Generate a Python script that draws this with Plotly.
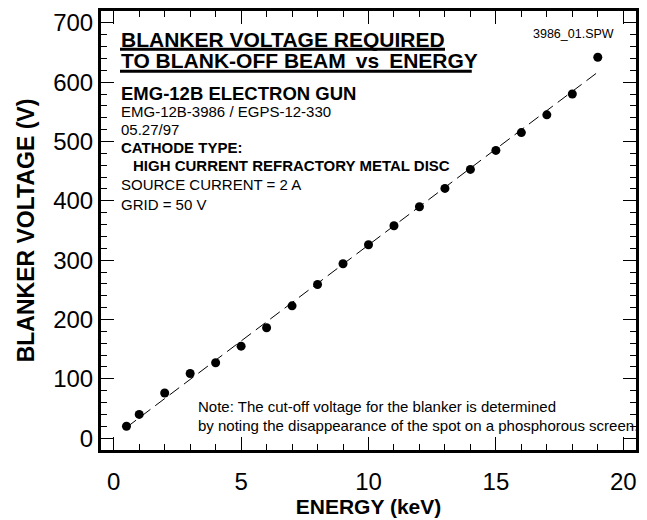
import numpy as np
import plotly.graph_objects as go

# Data
energy_kev = [0.5, 1, 2, 3, 4, 5, 6, 7, 8, 9, 10, 11, 12, 13, 14, 15, 16, 17, 18, 19]
blanker_v = [20, 40, 76, 109, 127, 155, 186, 223, 259, 294, 326, 358, 390, 421, 453,
             485, 515, 545, 580, 642]

x_tick_vals = [0, 5, 10, 15, 20]
y_tick_vals = [0, 100, 200, 300, 400, 500, 600, 700]

X_RANGE = [-0.5, 20.5]
Y_RANGE = [-20, 720]

# Linear fit drawn as a dashed line across the data span
slope, intercept = np.polyfit(energy_kev, blanker_v, 1)
fit_x = [min(energy_kev), max(energy_kev)]
fit_y = [slope * v + intercept for v in fit_x]

FONT = "Liberation Sans, Arial, sans-serif"

fig = go.Figure()
fig.add_trace(go.Scatter(x=fit_x, y=fit_y, mode="lines",
                         line=dict(color="black", width=1, dash="12px,6px"),
                         hoverinfo="skip", showlegend=False))
fig.add_trace(go.Scatter(x=energy_kev, y=blanker_v, mode="markers",
                         marker=dict(color="black", size=9), showlegend=False))

axis_common = dict(showgrid=False, zeroline=False, showline=True, linecolor="black",
                   linewidth=3, mirror="ticks", ticks="inside", ticklen=13, tickwidth=1,
                   tickcolor="black", automargin=False, layer="above traces",
                   tickfont=dict(family=FONT, size=24, color="black"))

fig.update_layout(
    template="none",
    xaxis=dict(range=X_RANGE, tickmode="array", tickvals=x_tick_vals,
               minor=dict(ticks="inside", dtick=1, ticklen=6, tickcolor="black", tickwidth=1,
                          showgrid=False),
               ticklabelstandoff=8,
               title=dict(text="<b>ENERGY (keV)</b>", font=dict(family=FONT, size=21, color="black"),
                          standoff=6),
               **axis_common),
    yaxis=dict(range=Y_RANGE, tickmode="array", tickvals=y_tick_vals,
               minor=dict(ticks="inside", dtick=20, ticklen=6, tickcolor="black", tickwidth=1,
                          showgrid=False),
               ticksuffix="\u00a0\u00a0",
               title=dict(text="<b>BLANKER VOLTAGE (V)</b>", font=dict(family=FONT, size=23, color="black"),
                          standoff=13),
               **axis_common),
)

def note(text, x, y, size, bold=False, xanchor="left"):
    fig.add_annotation(text=f"<b>{text}</b>" if bold else text, xref="paper", yref="paper",
                       x=x, y=y, xanchor=xanchor, yanchor="middle", showarrow=False,
                       font=dict(family=FONT, size=size, color="black"))

note("BLANKER VOLTAGE REQUIRED", 0.034, 0.934, 21, bold=True)
note("TO BLANK-OFF BEAM \u2009vs \u2009ENERGY", 0.034, 0.888, 21, bold=True)
note("EMG-12B ELECTRON GUN", 0.034, 0.813, 18.5, bold=True)
note("EMG-12B-3986 / EGPS-12-330", 0.034, 0.770, 15)
note("05.27/97", 0.034, 0.731, 15)
note("CATHODE TYPE:", 0.034, 0.690, 15, bold=True)
note("HIGH CURRENT REFRACTORY METAL DISC", 0.057, 0.649, 15, bold=True)
note("SOURCE CURRENT = 2 A", 0.034, 0.604, 15)
note("GRID = 50 V", 0.034, 0.560, 15)
note("3986_01.SPW", 0.962, 0.947, 12.5, xanchor="right")
note("Note: The cut-off voltage for the blanker is determined", 0.177, 0.098, 15)
note("by noting the disappearance of the spot on a phosphorous screen.", 0.177, 0.0547, 15)

# Title underlines
fig.add_shape(type="line", xref="paper", yref="paper", x0=0.0355, x1=0.643, y0=0.913, y1=0.913,
              line=dict(color="black", width=3))
fig.add_shape(type="line", xref="paper", yref="paper", x0=0.0355, x1=0.693, y0=0.863, y1=0.863,
              line=dict(color="black", width=3))

# page body has an 8px default margin, so the figure is 8px smaller on each axis
fig.update_layout(width=639, height=512, margin=dict(l=93, r=11, t=3, b=70),
                  plot_bgcolor="white", paper_bgcolor="white", showlegend=False,
                  font=dict(family=FONT, color="black"))

fig.write_html("out.html")
